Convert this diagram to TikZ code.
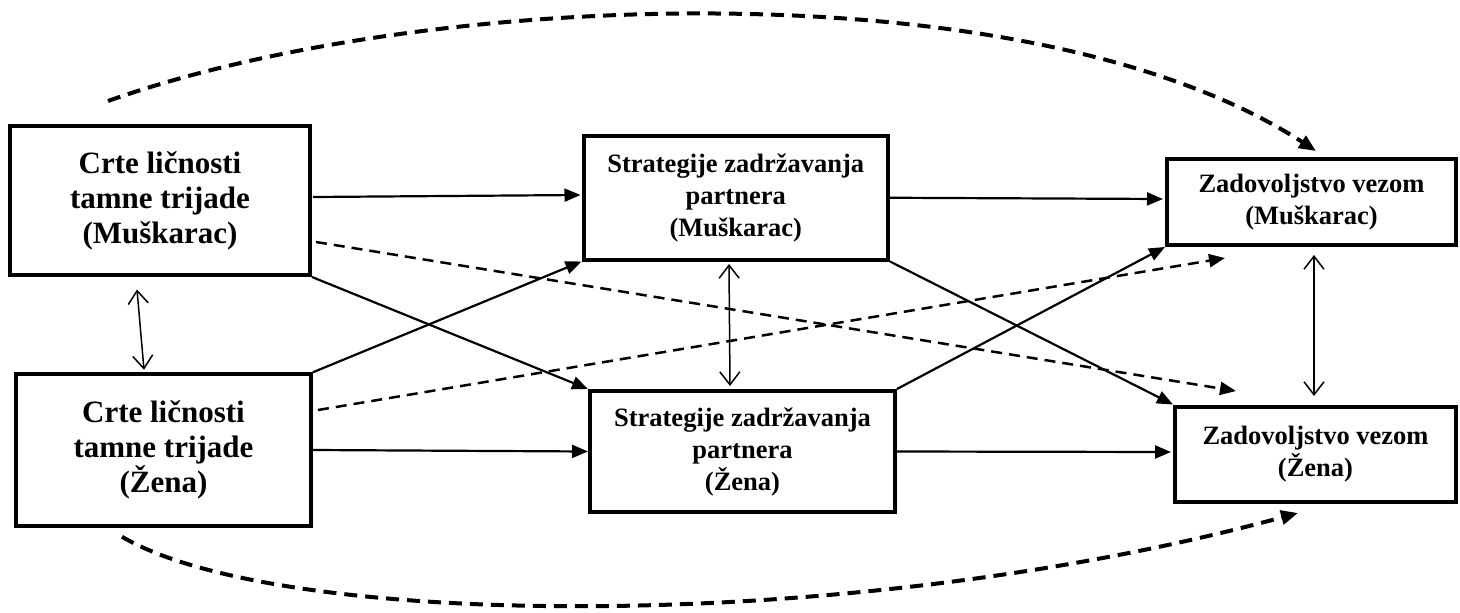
\documentclass[tikz,border=0pt]{standalone}
\usepackage{fontspec}
\setmainfont{Liberation Serif}
\usetikzlibrary{arrows.meta,calc}
\begin{document}
\begin{tikzpicture}[x=1pt,y=-1pt,
  box/.style={draw,line width=4pt,inner sep=0pt,align=center},
  big/.style={font=\fontsize{31}{35}\selectfont\bfseries},
  small/.style={font=\fontsize{26.5}{32}\selectfont\bfseries},
  sol/.style={line width=2.2pt,-{Triangle[length=16pt,width=13pt]}},
  dsh/.style={line width=2.5pt,dash pattern=on 11pt off 7pt,-{Triangle[length=16pt,width=13pt]}},
  crv/.style={line width=4pt,dash pattern=on 13pt off 8pt,-{Triangle[length=17pt,width=14pt]}},
  dbl/.style={line width=1.5pt,{Straight Barb[length=13pt,width=20pt]}-{Straight Barb[length=13pt,width=20pt]}}]
\useasboundingbox (0,0) rectangle (1460,613);
\fill[white] (0,0) rectangle (1460,613);

\node[box,big,minimum width=300pt,minimum height=149pt] (A) at (160,200.5) {Crte ličnosti\\tamne trijade\\(Muškarac)};
\node[box,big,minimum width=295pt,minimum height=151.5pt] (B) at (163.5,450) {Crte ličnosti\\tamne trijade\\(Žena)};
\node[box,small,minimum width=304.5pt,minimum height=123.5pt] (C) at (735.75,197.75) {Strategije zadržavanja\\partnera\\(Muškarac)};
\node[box,small,minimum width=305pt,minimum height=121pt] (D) at (742.5,451.5) {Strategije zadržavanja\\partnera\\(Žena)};
\node[box,small,minimum width=289pt,minimum height=86pt] (E) at (1311.5,202) {Zadovoljstvo vezom\\(Muškarac)};
\node[box,small,minimum width=281pt,minimum height=95pt] (F) at (1315.5,454) {Zadovoljstvo vezom\\(Žena)};

% free ends
\coordinate (AFt) at ($(F.north west)+(63,-13.5)$);
\coordinate (BEt) at ($(E.south west)+(60,11)$);
\coordinate (ABa) at ($(A.south)+(-23,12.5)$);
\coordinate (ABb) at ($(B.north)+(-19.5,-2.5)$);
\coordinate (CDa) at ($(C.south)+(-6.75,2.5)$);
\coordinate (CDb) at ($(D.north)+(-12.5,-3)$);
\coordinate (EFa) at ($(E.south)+(2.5,8)$);
\coordinate (EFb) at ($(F.north)+(-1.5,-8.5)$);
\coordinate (T0) at ($(A.north)+(-52,-23)$);
\coordinate (T1) at ($(E.north)+(4.5,-6)$);
\coordinate (U0) at ($(B.south)+(-41.5,9)$);
\coordinate (U1) at ($(F.south)+(-17.5,9.5)$);

% solid arrows
\draw[sol] ($(A.east)+(1,-3.5)$) -- ($(C.west)+(-1,-2.75)$);
\draw[sol] (A.south east) -- (D.north west);
\draw[sol] (B.north east) -- (C.south west);
\draw[sol] (B.east) -- (D.west);
\draw[sol] (C.east) -- ($(E.west)+(-2,-3)$);
\draw[sol] (C.south east) -- (F.north west);
\draw[sol] (D.north east) -- (E.south west);
\draw[sol] (D.east) -- ($(F.west)+(-2,-2)$);

% dashed arrows
\draw[dsh] ($(A.east)+(4,41.5)$) -- (AFt);
\draw[dsh] ($(B.east)+(5,-40)$) -- (BEt);

% double arrows
\draw[dbl] (ABa) -- (ABb);
\draw[dbl] (CDa) -- (CDb);
\draw[dbl] (EFa) -- (EFb);

% curved dashed arrows
\draw[crv] (T0) .. controls (420,-10) and (1030,-35) .. (T1);
\draw[crv] (U0) .. controls (280,630) and (850,635) .. (U1);
\end{tikzpicture}
\end{document}
